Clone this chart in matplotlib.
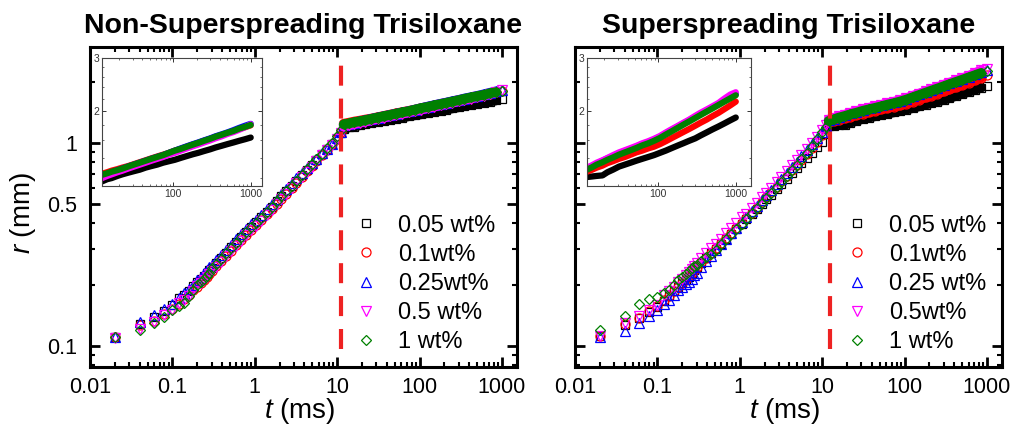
import numpy as np
import matplotlib
matplotlib.use('Agg')
import matplotlib.pyplot as plt
from matplotlib.ticker import FixedLocator, FixedFormatter, LogLocator, NullFormatter

plt.rcParams['font.family'] = ['Liberation Sans', 'DejaVu Sans']
plt.rcParams['mathtext.fontset'] = 'custom'
plt.rcParams['mathtext.it'] = 'Liberation Sans:italic'
plt.rcParams['mathtext.rm'] = 'Liberation Sans'

# sample times (ms), shared by all series
t_early = [0.02, 0.04, 0.06, 0.08, 0.10, 0.12, 0.14, 0.16, 0.18, 0.20, 0.22, 0.24, 0.26, 0.28]
t_mid = [0.30, 0.34, 0.39, 0.45, 0.52, 0.60, 0.69, 0.79, 0.91, 1.05, 1.2, 1.4, 1.6, 1.85,
         2.1, 2.4, 2.8, 3.2, 3.7, 4.3, 4.9, 5.6, 6.5, 7.5, 8.6, 9.9, 11.0]
t_late = [12, 14, 16, 19, 22, 26, 31, 37, 44, 52, 62, 74, 88, 105, 125, 150, 180, 210,
          250, 300, 350, 420, 500, 600, 710, 850, 1000]

# r (mm), non-superspreading
left_black = [0.110, 0.128, 0.138, 0.148, 0.158, 0.172, 0.178, 0.186, 0.196, 0.205, 0.213, 0.221, 0.229, 0.236,
              0.242, 0.255, 0.270, 0.287, 0.305, 0.324, 0.344, 0.364, 0.385, 0.405, 0.428, 0.457, 0.484, 0.515,
              0.543, 0.575, 0.614, 0.650, 0.691, 0.736, 0.778, 0.823, 0.875, 0.930, 0.985, 1.045, 1.110,
              1.17, 1.19, 1.20, 1.22, 1.235, 1.25, 1.265, 1.28, 1.30, 1.315, 1.33, 1.35, 1.365, 1.38,
              1.40, 1.42, 1.44, 1.455, 1.475, 1.495, 1.515, 1.535, 1.555, 1.575, 1.595, 1.615, 1.635]
left_red = [0.110, 0.127, 0.133, 0.144, 0.152, 0.160, 0.170, 0.178, 0.188, 0.195, 0.203, 0.210, 0.218, 0.225,
            0.233, 0.246, 0.260, 0.276, 0.294, 0.312, 0.331, 0.351, 0.372, 0.392, 0.414, 0.443, 0.470, 0.500,
            0.528, 0.560, 0.598, 0.634, 0.676, 0.722, 0.765, 0.812, 0.866, 0.924, 0.980, 1.045, 1.130,
            1.24, 1.255, 1.27, 1.285, 1.30, 1.315, 1.335, 1.355, 1.375, 1.395, 1.415, 1.435, 1.455, 1.48,
            1.50, 1.525, 1.55, 1.57, 1.595, 1.62, 1.64, 1.665, 1.69, 1.715, 1.745, 1.77, 1.795]
left_blue = [0.110, 0.131, 0.142, 0.151, 0.160, 0.171, 0.181, 0.190, 0.200, 0.211, 0.218, 0.228, 0.236, 0.244,
             0.251, 0.264, 0.279, 0.296, 0.315, 0.334, 0.354, 0.375, 0.396, 0.417, 0.441, 0.471, 0.498, 0.530,
             0.559, 0.592, 0.632, 0.668, 0.710, 0.752, 0.792, 0.835, 0.885, 0.935, 0.990, 1.050, 1.130,
             1.22, 1.24, 1.255, 1.275, 1.29, 1.31, 1.33, 1.35, 1.37, 1.39, 1.41, 1.43, 1.455, 1.48,
             1.505, 1.53, 1.555, 1.575, 1.60, 1.625, 1.65, 1.675, 1.70, 1.73, 1.76, 1.79, 1.815]
left_magenta = [0.109, 0.121, 0.131, 0.142, 0.150, 0.162, 0.168, 0.176, 0.186, 0.196, 0.204, 0.211, 0.218, 0.225,
                0.232, 0.245, 0.259, 0.275, 0.292, 0.310, 0.329, 0.349, 0.370, 0.390, 0.412, 0.441, 0.468, 0.498,
                0.526, 0.558, 0.597, 0.632, 0.674, 0.720, 0.763, 0.810, 0.865, 0.922, 0.978, 1.043, 1.120,
                1.20, 1.22, 1.235, 1.255, 1.27, 1.29, 1.31, 1.33, 1.35, 1.37, 1.39, 1.41, 1.435, 1.455,
                1.48, 1.505, 1.53, 1.55, 1.575, 1.60, 1.625, 1.65, 1.68, 1.705, 1.735, 1.77, 1.81]
left_green = [0.110, 0.119, 0.129, 0.139, 0.149, 0.157, 0.162, 0.176, 0.187, 0.199, 0.206, 0.213, 0.220, 0.228,
              0.240, 0.253, 0.268, 0.285, 0.303, 0.322, 0.342, 0.362, 0.383, 0.403, 0.427, 0.456, 0.483, 0.514,
              0.543, 0.575, 0.614, 0.650, 0.692, 0.738, 0.781, 0.827, 0.880, 0.940, 0.995, 1.075, 1.150,
              1.23, 1.245, 1.26, 1.275, 1.29, 1.31, 1.33, 1.35, 1.37, 1.39, 1.41, 1.43, 1.455, 1.48,
              1.50, 1.525, 1.55, 1.57, 1.595, 1.62, 1.645, 1.67, 1.695, 1.72, 1.75, 1.775, 1.80]

# r (mm), superspreading
right_black = [0.111, 0.127, 0.137, 0.147, 0.155, 0.166, 0.175, 0.185, 0.194, 0.203, 0.211, 0.219, 0.227, 0.235,
               0.243, 0.256, 0.270, 0.285, 0.301, 0.318, 0.337, 0.356, 0.377, 0.398, 0.419, 0.445, 0.469, 0.498,
               0.525, 0.555, 0.591, 0.624, 0.663, 0.706, 0.746, 0.790, 0.840, 0.893, 0.948, 1.010, 1.100,
               1.21, 1.215, 1.22, 1.225, 1.255, 1.28, 1.31, 1.33, 1.35, 1.37, 1.39, 1.41, 1.43, 1.455,
               1.48, 1.51, 1.54, 1.565, 1.595, 1.625, 1.66, 1.70, 1.74, 1.78, 1.82, 1.865, 1.905]
right_red = [0.111, 0.128, 0.137, 0.148, 0.156, 0.168, 0.176, 0.186, 0.195, 0.204, 0.212, 0.220, 0.228, 0.236,
             0.244, 0.257, 0.271, 0.286, 0.302, 0.320, 0.339, 0.359, 0.381, 0.403, 0.425, 0.452, 0.478, 0.508,
             0.537, 0.569, 0.608, 0.644, 0.686, 0.733, 0.777, 0.825, 0.882, 0.944, 1.008, 1.085, 1.170,
             1.26, 1.28, 1.30, 1.32, 1.345, 1.365, 1.39, 1.41, 1.435, 1.46, 1.48, 1.505, 1.525, 1.555,
             1.59, 1.63, 1.67, 1.705, 1.745, 1.79, 1.83, 1.875, 1.925, 1.975, 2.03, 2.09, 2.15]
right_blue = [0.110, 0.118, 0.130, 0.140, 0.150, 0.160, 0.168, 0.178, 0.187, 0.195, 0.201, 0.207, 0.214, 0.222,
              0.229, 0.244, 0.260, 0.278, 0.297, 0.316, 0.336, 0.358, 0.382, 0.406, 0.430, 0.460, 0.488, 0.520,
              0.551, 0.586, 0.627, 0.665, 0.710, 0.760, 0.807, 0.858, 0.918, 0.982, 1.050, 1.130, 1.210,
              1.29, 1.315, 1.34, 1.37, 1.395, 1.42, 1.45, 1.475, 1.50, 1.525, 1.555, 1.58, 1.61, 1.645,
              1.69, 1.735, 1.78, 1.82, 1.865, 1.915, 1.96, 2.01, 2.06, 2.115, 2.17, 2.23, 2.28]
right_magenta = [0.112, 0.129, 0.140, 0.150, 0.159, 0.178, 0.186, 0.195, 0.205, 0.214, 0.222, 0.230, 0.238, 0.246,
                 0.255, 0.270, 0.286, 0.302, 0.318, 0.337, 0.357, 0.379, 0.404, 0.428, 0.447, 0.476, 0.503, 0.537,
                 0.567, 0.601, 0.642, 0.680, 0.726, 0.776, 0.823, 0.874, 0.935, 1.000, 1.070, 1.150, 1.220,
                 1.30, 1.325, 1.35, 1.375, 1.40, 1.43, 1.46, 1.485, 1.51, 1.535, 1.565, 1.59, 1.62, 1.655,
                 1.70, 1.745, 1.79, 1.83, 1.875, 1.93, 1.975, 2.025, 2.075, 2.13, 2.20, 2.27, 2.31]
right_green = [0.120, 0.140, 0.160, 0.169, 0.174, 0.181, 0.188, 0.199, 0.211, 0.219, 0.226, 0.233, 0.240, 0.247,
               0.250, 0.261, 0.273, 0.284, 0.297, 0.317, 0.336, 0.355, 0.376, 0.399, 0.421, 0.450, 0.476, 0.507,
               0.535, 0.567, 0.606, 0.642, 0.685, 0.734, 0.779, 0.829, 0.887, 0.961, 1.038, 1.123, 1.190,
               1.28, 1.305, 1.33, 1.355, 1.38, 1.405, 1.435, 1.46, 1.485, 1.51, 1.54, 1.565, 1.595, 1.63,
               1.673, 1.717, 1.763, 1.803, 1.848, 1.898, 1.941, 1.992, 2.042, 2.097, 2.149, 2.205, 2.257]

labels_left = ['0.05 wt%', '0.1wt%', '0.25wt%', '0.5 wt%', '1 wt%']
labels_right = ['0.05 wt%', '0.1wt%', '0.25 wt%', '0.5wt%', '1 wt%']
colors = ['black', '#ff0000', '#0000ff', '#ff00ff', '#008000']
markers = ['s', 'o', '^', 'v', 'D']
msizes = [5.5, 6.5, 7.0, 7.0, 5.5]

t_c_left = 11.0   # ms, dashed line
t_c_right = 12.4

t = np.array(t_early + t_mid + t_late, dtype=float)
n_late = len(t_late)


def draw_panel(rect, inset_rect, series, labels, title, t_c, ylabels, leg_x, inset_xlim):
    ax = fig.add_axes(rect)
    handles = []
    for r, c, m, ms, lab in zip(series, colors, markers, msizes, labels):
        r = np.array(r)
        assert len(r) == len(t)
        # late data are so dense in the original that they merge into a band
        ax.plot(t[-n_late:-1], r[-n_late:-1], '-', color=c, lw=7, solid_capstyle='round')
        h, = ax.plot(t, r, ls='none', marker=m, ms=ms, mfc='none', mec=c, mew=0.9, label=lab)
        handles.append(h)
    ax.axvline(t_c, ymin=0.055, ymax=0.965, color='#ee2222', lw=3, dashes=(4.8, 3.1))
    ax.set_xscale('log')
    ax.set_yscale('log')
    ax.set_xlim(0.01, 1520)
    ax.set_ylim(0.0785, 2.96)
    ax.xaxis.set_major_locator(FixedLocator([0.01, 0.1, 1, 10, 100, 1000]))
    ax.xaxis.set_major_formatter(FixedFormatter(['0.01', '0.1', '1', '10', '100', '1000']))
    ax.xaxis.set_minor_locator(LogLocator(base=10, subs=np.arange(2, 10), numticks=30))
    ax.xaxis.set_minor_formatter(NullFormatter())
    ax.yaxis.set_major_locator(FixedLocator([0.1, 0.5, 1]))
    ax.yaxis.set_major_formatter(FixedFormatter(['0.1', '0.5', '1']))
    ax.yaxis.set_minor_locator(LogLocator(base=10, subs=np.arange(2, 10), numticks=30))
    ax.yaxis.set_minor_formatter(NullFormatter())
    ax.tick_params(which='both', direction='in', top=True, right=True, labelsize=15.5)
    ax.tick_params(which='major', length=7, width=2)
    ax.tick_params(which='minor', length=3.5, width=1.5)
    ax.tick_params(axis='x', pad=7)
    ax.tick_params(axis='y', pad=9, labelleft=ylabels)
    for s in ax.spines.values():
        s.set_linewidth(2.2)
    ax.set_title(title, fontsize=20.5, fontweight='bold', pad=10)
    ax.set_xlabel(r'$t$ (ms)', fontsize=20)
    ax.xaxis.set_label_coords(0.49, -0.09)
    if ylabels:
        ax.set_ylabel(r'$r$ (mm)', fontsize=20)
        ax.yaxis.set_label_coords(-0.122, 0.48)
    ax.legend(handles=handles, loc='upper left', bbox_to_anchor=(leg_x, 0.476), frameon=False,
              borderpad=0, borderaxespad=0, handlelength=1.0, handletextpad=0.86,
              labelspacing=0.3, fontsize=17)

    ins = fig.add_axes(inset_rect)
    for r, c in zip(series, colors):
        r = np.array(r)
        ins.plot(t[-n_late:], r[-n_late:], '-', color=c, lw=4.5, solid_capstyle='round')
    ins.set_xscale('log')
    ins.set_yscale('log')
    ins.set_xlim(*inset_xlim)
    ins.set_ylim(1.13, 3.0)
    ins.xaxis.set_major_locator(FixedLocator([100, 1000]))
    ins.xaxis.set_major_formatter(FixedFormatter(['100', '1000']))
    ins.xaxis.set_minor_locator(LogLocator(base=10, subs=np.arange(2, 10), numticks=30))
    ins.xaxis.set_minor_formatter(NullFormatter())
    ins.yaxis.set_major_locator(FixedLocator([2, 3]))
    ins.yaxis.set_major_formatter(FixedFormatter(['2', '3']))
    ins.yaxis.set_minor_locator(FixedLocator([1.2, 1.4, 1.6, 1.8, 2.2, 2.4, 2.6, 2.8]))
    ins.yaxis.set_minor_formatter(NullFormatter())
    ins.tick_params(which='both', direction='in', top=True, right=True, labelsize=7.5,
                    pad=2, colors='#333333')
    ins.tick_params(which='major', length=3, width=0.7)
    ins.tick_params(which='minor', length=1.5, width=0.5)
    for s in ins.spines.values():
        s.set_linewidth(0.8)
        s.set_color('#444444')


fig = plt.figure(figsize=(10.13, 4.25), dpi=100)
draw_panel([0.0888, 0.1365, 0.4215, 0.7529], [0.1004, 0.5624, 0.1585, 0.3012],
           [left_black, left_red, left_blue, left_magenta, left_green], labels_left,
           'Non-Superspreading Trisiloxane', t_c_left, True, 0.618, (11.9, 1410))
draw_panel([0.5676, 0.1365, 0.4215, 0.7529], [0.5798, 0.5624, 0.1613, 0.3012],
           [right_black, right_red, right_blue, right_magenta, right_green], labels_right,
           'Superspreading Trisiloxane', t_c_right, False, 0.633, (12.1, 1560))

fig.savefig('out.png', dpi=100)
